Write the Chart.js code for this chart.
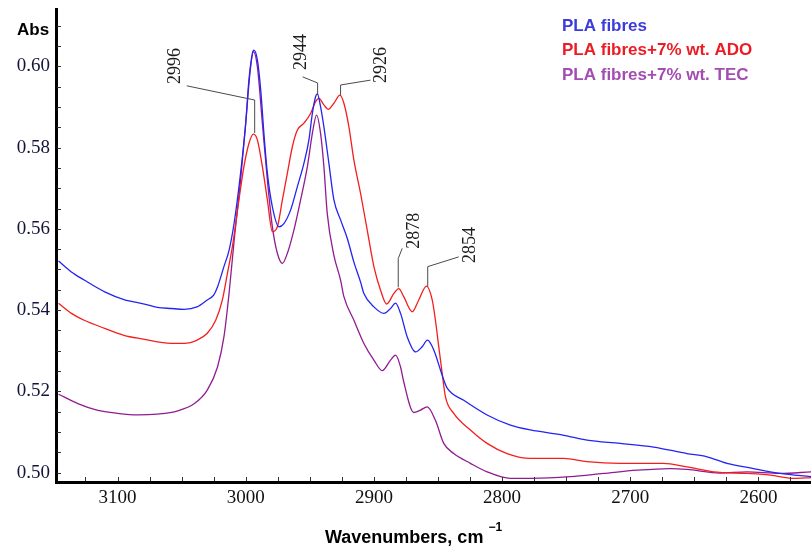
<!DOCTYPE html>
<html><head><meta charset="utf-8">
<script src="https://cdn.jsdelivr.net/npm/chart.js@4/dist/chart.umd.min.js"></script>
<style>html,body{margin:0;padding:0;background:#fff}#wrap{width:811px;height:550px;position:relative}</style>
</head><body><div id="wrap"><canvas id="c"></canvas></div>
<script>
// ---- data (wavenumber cm-1, absorbance) ----
const seriesNames = ['PLA fibres', 'PLA fibres+7% wt. ADO', 'PLA fibres+7% wt. TEC'];

const blueWave = [3146,3136,3126,3110,3095,3079,3069,3058,3048,3038,3030,3025,3022,3017,3013,3009,3004,3000,2997.5,2994.8,2993.6,2990.9,2988.3,2985.8,2983.1,2979.2,2974.1,2970.2,2965,2959.7,2954.6,2950.7,2948,2945.5,2944.1,2941.6,2939,2935.1,2931.2,2926,2920.8,2915.6,2910.4,2907.8,2900,2892.2,2887,2883.1,2879.2,2874,2867.5,2862.3,2858.2,2853.3,2848,2845.5,2842.8,2829.9,2811.7,2793.5,2777.9,2752,2733.7,2707.8,2681.8,2655.8,2640.2,2624.6,2603.9,2583.1,2558.9];
const blueAbs = [0.5521,0.5494,0.5474,0.5445,0.5426,0.5415,0.5407,0.5404,0.5402,0.5408,0.5425,0.5437,0.5457,0.5507,0.5547,0.5615,0.5737,0.5860,0.5966,0.6032,0.6040,0.6016,0.5942,0.5835,0.5737,0.5654,0.5605,0.5613,0.5646,0.5704,0.5761,0.5819,0.5884,0.5925,0.5932,0.5901,0.5851,0.5761,0.5671,0.5622,0.5577,0.5518,0.5469,0.5441,0.5408,0.5392,0.5404,0.5417,0.5392,0.5334,0.5297,0.5310,0.5326,0.5302,0.5252,0.5228,0.5208,0.5178,0.5142,0.5117,0.5105,0.5092,0.5080,0.5072,0.5063,0.5047,0.5039,0.5023,0.5010,0.4998,0.4990];

const redWave = [3146,3136,3126,3110,3095,3079,3069,3056,3048,3038,3030,3023.4,3018.2,3014.3,3010.4,3005.3,3001.4,2997.5,2994,2990.9,2987,2983.1,2979.2,2975.3,2971.4,2967.5,2963.6,2959.7,2954.6,2949.4,2945.5,2942.9,2939,2935.6,2931.2,2926.5,2923.4,2919.5,2915.6,2910.4,2905.2,2900,2894.8,2890.1,2884.4,2880.6,2876.7,2870.1,2865,2859,2854.5,2852,2849.4,2846.7,2844.2,2837.7,2824.7,2811.7,2796.1,2777.9,2752,2733.7,2707.8,2674,2655.8,2635,2609,2590.8,2572.7,2558.9];
const redAbs = [0.5417,0.5392,0.5375,0.5355,0.5338,0.5328,0.5322,0.5318,0.5318,0.5326,0.5343,0.5375,0.5425,0.5490,0.5556,0.5671,0.5753,0.5810,0.5833,0.5819,0.5753,0.5671,0.5593,0.5605,0.5671,0.5737,0.5802,0.5843,0.5860,0.5884,0.5913,0.5921,0.5905,0.5894,0.5909,0.5929,0.5909,0.5851,0.5769,0.5687,0.5597,0.5507,0.5449,0.5415,0.5441,0.5453,0.5433,0.5396,0.5425,0.5459,0.5425,0.5375,0.5310,0.5244,0.5187,0.5146,0.5105,0.5072,0.5047,0.5035,0.5035,0.5027,0.5023,0.5023,0.5014,0.5002,0.4998,0.4994,0.4986,0.4988];

const purpleWave = [3146,3131,3116,3100,3084,3069,3053,3040,3030,3022,3017,3013,3009,3004,3000,2996.7,2994,2990.9,2987,2983.1,2979.2,2975.3,2971.4,2967.5,2962.4,2957.2,2951.9,2948,2944.7,2941.6,2939,2936.4,2931.2,2926,2923.4,2915.6,2907.8,2900,2893.5,2887,2883.1,2879.2,2876.7,2868.9,2863.6,2858.4,2852,2845.5,2837.7,2824.7,2811.7,2793.5,2777.9,2746.7,2720.8,2694.7,2668.8,2655.8,2629.8,2609,2583.1,2558.9];
const purpleAbs = [0.5193,0.5170,0.5154,0.5146,0.5142,0.5144,0.5152,0.5170,0.5203,0.5260,0.5334,0.5441,0.5572,0.5720,0.5860,0.5983,0.6036,0.5999,0.5860,0.5720,0.5605,0.5540,0.5515,0.5540,0.5597,0.5671,0.5753,0.5835,0.5880,0.5835,0.5753,0.5638,0.5535,0.5474,0.5433,0.5375,0.5318,0.5277,0.5251,0.5277,0.5289,0.5260,0.5223,0.5148,0.5154,0.5162,0.5129,0.5072,0.5047,0.5023,0.5002,0.4986,0.4986,0.4990,0.4998,0.5006,0.5010,0.5008,0.4999,0.5002,0.4998,0.5002];

// tick values
const xTickValues = [3100, 3000, 2900, 2800, 2700, 2600];
const yTickValues = [0.50, 0.52, 0.54, 0.56, 0.58, 0.60];

// peak annotations: label, label anchor (wave, abs), leader polyline
const peakLabels = ['2996', '2944', '2926', '2878', '2854'];
const peakLabelWave = [3054.6, 2956.4, 2894, 2868.3, 2824.7];
const peakLabelAbs = [0.6001, 0.6035, 0.6003, 0.5595, 0.5560];
const peakLeaders = [
  [[3046, 0.5952], [2993, 0.5917], [2993, 0.5836]],
  [[2955.6, 0.5974], [2943.9, 0.5959], [2943.9, 0.5929]],
  [[2902.6, 0.5966], [2926, 0.5954], [2926, 0.5929]],
  [[2877.9, 0.5552], [2881, 0.5527], [2881, 0.5456]],
  [[2833.8, 0.5531], [2858, 0.5507], [2858, 0.5457]]
];

const lineColors = ['#2424f2', '#f41e1e', '#901c92'];
const legendColors = ['#3c3cd8', '#ec1c24', '#a34cb2'];

function pts(w, a) { return w.map((x, i) => ({x: x, y: a[i]})); }

const SERIF = '"Liberation Serif", "DejaVu Serif", serif';
const SANS = '"Liberation Sans", Arial, sans-serif';

const decor = {
  id: 'decor',
  afterDatasetsDraw(chart) {
    const ctx = chart.ctx, xs = chart.scales.x, ys = chart.scales.y, ca = chart.chartArea;
    ctx.save();
    // minor ticks
    ctx.strokeStyle = '#333'; ctx.lineWidth = 1;
    ctx.beginPath();
    for (let w = 2575; w <= 3125; w += 25) {
      const px = Math.round(xs.getPixelForValue(w)) + 0.5;
      ctx.moveTo(px, ca.bottom - 1); ctx.lineTo(px, ca.bottom - 5);
    }
    for (let k = 0; k <= 23; k++) {
      const v = 0.5 + k * 0.005;
      const py = Math.round(ys.getPixelForValue(v)) + 0.5;
      if (py < ca.top || py > ca.bottom) continue;
      ctx.moveTo(ca.left + 1, py); ctx.lineTo(ca.left + 5, py);
    }
    ctx.stroke();
    // peak leaders
    ctx.strokeStyle = '#4a4a4a'; ctx.lineWidth = 1;
    peakLeaders.forEach(poly => {
      ctx.beginPath();
      poly.forEach((p, i) => {
        const px = xs.getPixelForValue(p[0]), py = ys.getPixelForValue(p[1]);
        if (i === 0) ctx.moveTo(px, py); else ctx.lineTo(px, py);
      });
      ctx.stroke();
    });
    // peak labels (rotated)
    ctx.fillStyle = '#1c1c1c';
    ctx.font = '18px ' + SERIF;
    ctx.textAlign = 'center'; ctx.textBaseline = 'middle';
    peakLabels.forEach((t, i) => {
      const px = xs.getPixelForValue(peakLabelWave[i]), py = ys.getPixelForValue(peakLabelAbs[i]);
      ctx.save(); ctx.translate(px, py); ctx.rotate(-Math.PI / 2); ctx.fillText(t, 0, 0); ctx.restore();
    });
    ctx.restore();
  },
  afterDraw(chart) {
    const ctx = chart.ctx;
    ctx.save();
    // Abs label
    ctx.fillStyle = '#000';
    ctx.font = 'bold 17px ' + SANS;
    ctx.textAlign = 'left'; ctx.textBaseline = 'middle';
    ctx.fillText('Abs', 17, 30);
    // axis title
    ctx.font = 'bold 18px ' + SANS;
    ctx.textAlign = 'left'; ctx.textBaseline = 'middle';
    const t1 = 'Wavenumbers, cm';
    const w1 = ctx.measureText(t1).width;
    const startX = 325;
    ctx.fillText(t1, startX, 538);
    ctx.font = 'bold 12px ' + SANS;
    ctx.fillText('\u22121', startX + w1 + 5, 528);
    // legend
    ctx.font = 'bold 17px ' + SANS;
    chart.data.datasets.forEach((ds, i) => {
      ctx.fillStyle = legendColors[i];
      ctx.fillText(ds.label, 562, 26 + i * 24.5);
    });
    ctx.restore();
  }
};

new Chart(document.getElementById('c'), {
  type: 'line',
  data: {
    datasets: [
      {label: seriesNames[0], data: pts(blueWave, blueAbs), borderColor: lineColors[0]},
      {label: seriesNames[1], data: pts(redWave, redAbs), borderColor: lineColors[1]},
      {label: seriesNames[2], data: pts(purpleWave, purpleAbs), borderColor: lineColors[2]}
    ].map(d => Object.assign(d, {borderWidth: 1.3, pointRadius: 0, fill: false, cubicInterpolationMode: 'monotone'}))
  },
  options: {
    responsive: true, maintainAspectRatio: false, animation: false,
    layout: {padding: {top: 9, left: 0, right: 0, bottom: 0}},
    plugins: {legend: {display: false}, tooltip: {enabled: false}},
    scales: {
      x: {
        type: 'linear', reverse: true, min: 2559, max: 3148,
        afterFit(s) { s.height = 68; s.paddingLeft = 0; s.paddingRight = 0; },
        afterBuildTicks(s) { s.ticks = xTickValues.map(v => ({value: v})); },
        grid: {display: false, drawTicks: false},
        border: {display: true, color: '#000', width: 3},
        ticks: {padding: 5, color: '#111', font: {family: SERIF, size: 19}, maxRotation: 0,
          callback: v => String(v)}
      },
      y: {
        type: 'linear', min: 0.4977, max: 0.6141,
        afterFit(s) { s.width = 56; s.paddingTop = 0; s.paddingBottom = 0; },
        afterBuildTicks(s) { s.ticks = yTickValues.map(v => ({value: v})); },
        grid: {display: false, drawTicks: false},
        border: {display: true, color: '#000', width: 3},
        ticks: {padding: 6, color: '#14143a', font: {family: SERIF, size: 19},
          callback: v => Number(v).toFixed(2)}
      }
    }
  },
  plugins: [decor]
});
</script></body></html>
